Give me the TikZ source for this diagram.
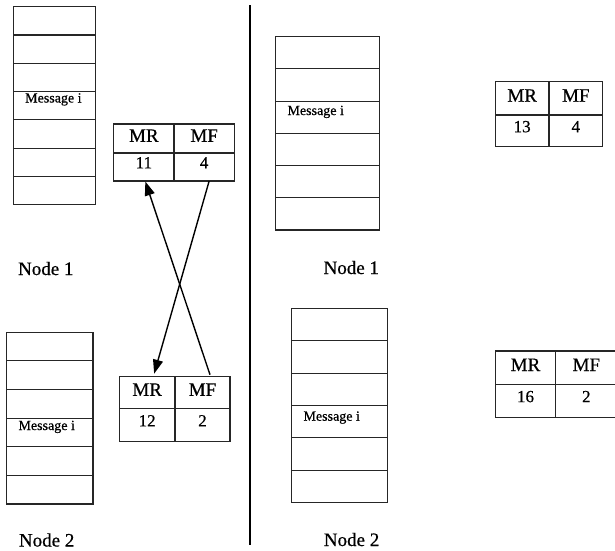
\documentclass[tikz,border=0pt]{standalone}
\usepackage{fontspec}
\setmainfont[FakeBold=0.6,BoldFont=Liberation Serif]{Liberation Serif}
\usetikzlibrary{arrows.meta}
\begin{document}
\begin{tikzpicture}[x=1pt,y=-1pt,
  cell/.style={draw=black!85,line width=1.1pt,rectangle,inner sep=0pt,outer sep=0pt},
  hdr/.style={cell,font=\fontsize{19}{22}\selectfont\bfseries,text height=12.7pt,text depth=6pt},
  num/.style={cell,font=\fontsize{17}{20}\selectfont\bfseries,text height=11.7pt,text depth=9pt},
  msg/.style={anchor=base west,inner sep=0pt,font=\fontsize{14}{16}\selectfont\bfseries},
  nodelbl/.style={anchor=base,inner sep=0pt,font=\fontsize{19}{22}\selectfont\bfseries},
  arr/.style={line width=1.4pt,-{Triangle[length=14pt,width=10pt]}}]
\useasboundingbox (0,0) rectangle (615,550);
% stacks
\foreach \i in {1,...,7}
  \node[cell,minimum width=82.4pt,minimum height=28.29pt] (la\i) at (54.5,{6.7+28.29*(\i-0.5)}) {};
\foreach \i in {1,...,6}
  \node[cell,minimum width=86.3pt,minimum height=28.62pt] (lb\i) at (49.85,{332.3+28.62*(\i-0.5)}) {};
\foreach \i in {1,...,6}
  \node[cell,minimum width=104pt,minimum height=32.22pt] (ra\i) at (327.3,{36.7+32.22*(\i-0.5)}) {};
\foreach \i in {1,...,6}
  \node[cell,minimum width=96pt,minimum height=32.4pt] (rb\i) at (339.3,{308.3+32.4*(\i-0.5)}) {};
\node[msg] (m1) at (25,102.5) {Message i};
\node[msg] (m2) at (18.3,430) {Message i};
\node[msg] (m3) at (287.3,115) {Message i};
\node[msg] (m4) at (303.3,420.7) {Message i};
% tables
\node[hdr,minimum width=60.3pt,minimum height=29pt] (t1mr) at (143.85,138.5) {MR};
\node[hdr,minimum width=60.3pt,minimum height=29pt] (t1mf) at (204.15,138.5) {MF};
\node[num,minimum width=60.3pt,minimum height=28pt] (t1a) at (143.85,167) {11};
\node[num,minimum width=60.3pt,minimum height=28pt] (t1b) at (204.15,167) {4};
\node[hdr,minimum width=55.7pt,minimum height=31.6pt] (t2mr) at (147.15,392.5) {MR};
\node[hdr,minimum width=55pt,minimum height=31.6pt] (t2mf) at (202.5,392.5) {MF};
\node[num,minimum width=55.7pt,minimum height=33.4pt] (t2a) at (147.15,425) {12};
\node[num,minimum width=55pt,minimum height=33.4pt] (t2b) at (202.5,425) {2};
\node[hdr,minimum width=53.7pt,minimum height=33.3pt] (t3mr) at (522.15,98.35) {MR};
\node[hdr,minimum width=53.7pt,minimum height=33.3pt] (t3mf) at (575.85,98.35) {MF};
\node[num,minimum width=53.7pt,minimum height=31.7pt] (t3a) at (522.15,130.85) {13};
\node[num,minimum width=53.7pt,minimum height=31.7pt] (t3b) at (575.85,130.85) {4};
\node[hdr,minimum width=60.4pt,minimum height=33.3pt] (t4mr) at (525.5,367.65) {MR};
\node[hdr,minimum width=61.3pt,minimum height=33.3pt] (t4mf) at (586.35,367.65) {MF};
\node[num,minimum width=60.4pt,minimum height=33pt] (t4a) at (525.5,400.8) {16};
\node[num,minimum width=61.3pt,minimum height=33pt] (t4b) at (586.35,400.8) {2};
% labels
\node[nodelbl] (n1l) at (45.8,275) {Node 1};
\node[nodelbl] (n2l) at (46.7,546.5) {Node 2};
\node[nodelbl] (n1r) at (351.3,274) {Node 1};
\node[nodelbl] (n2r) at (351.6,546) {Node 2};
% separator
\coordinate (sept) at (250,5);
\coordinate (sepb) at (250,545);
\draw[line width=1.2pt] (sept) -- (sepb);
% arrows
\draw[arr] ([xshift=5pt]t1b.south) -- ([xshift=7pt,yshift=3pt]t2mr.north);
\draw[arr] ([xshift=7.5pt,yshift=2pt]t2mf.north) -- ([xshift=1.5pt,yshift=-0.5pt]t1a.south);
\end{tikzpicture}
\end{document}
